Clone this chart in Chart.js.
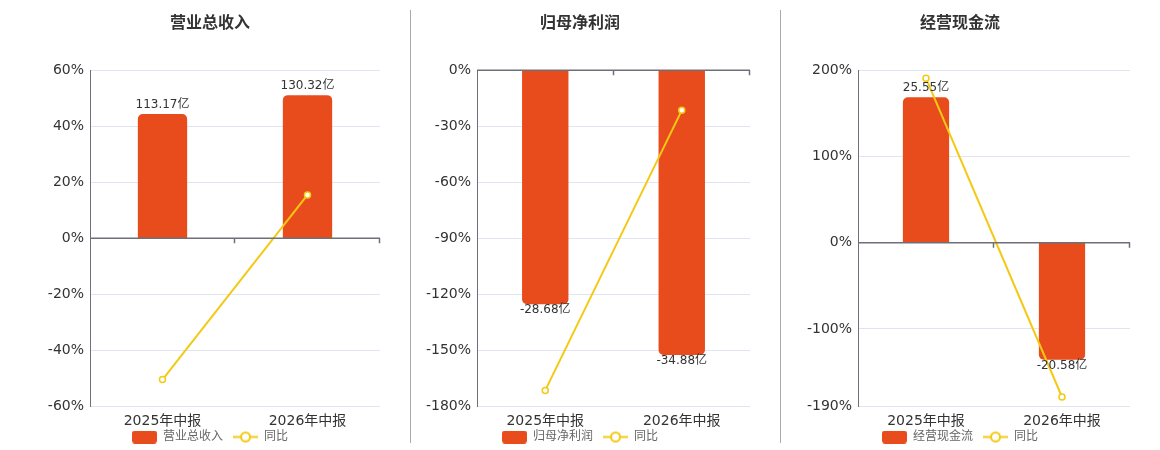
<!DOCTYPE html>
<html>
<head>
<meta charset="utf-8">
<script src="https://cdn.jsdelivr.net/npm/chart.js@4.4.0/dist/chart.umd.min.js"></script>
<style>
  body { margin: 0; background: #fff; width: 1160px; height: 450px; overflow: hidden; position: relative; }
  .box { position: absolute; top: 0; height: 453px; }
  .sep { position: absolute; top: 10px; width: 1px; height: 433px; background: #aaa; }
</style>
</head>
<body>
<div class="box" style="left:0;width:400px"><canvas id="c1"></canvas></div>
<div class="sep" style="left:410px"></div>
<div class="box" style="left:410px;width:350px"><canvas id="c2"></canvas></div>
<div class="sep" style="left:780px"></div>
<div class="box" style="left:790px;width:370px"><canvas id="c3"></canvas></div>
<script>
const periods = ['2025年中报', '2026年中报'];

const revenue = [113.17, 130.32];
const revenueYoy = [-50.4, 15.5];
const revenueTicks = [-60, -40, -20, 0, 20, 40, 60];

const netProfit = [-28.68, -34.88];
const netProfitYoy = [-171.4, -21.5];
const netProfitTicks = [-180, -150, -120, -90, -60, -30, 0];

const cashFlow = [25.55, -20.58];
const cashFlowYoy = [190.6, -179];
const cashFlowTicks = [-190, -100, 0, 100, 200];

const BAR = '#E84C1C';
const LINE = '#F4C915';
const AXIS = '#6E7079';
const FONT = '"DejaVu Sans", "Noto Sans CJK SC", sans-serif';

function barIcon() {
  const c = document.createElement('canvas');
  c.width = 25; c.height = 13;
  const g = c.getContext('2d');
  g.fillStyle = BAR;
  g.beginPath();
  g.roundRect(0, 0, 25, 13, 3);
  g.fill();
  return c;
}

function lineIcon() {
  const c = document.createElement('canvas');
  c.width = 25; c.height = 13;
  const g = c.getContext('2d');
  g.strokeStyle = LINE;
  g.lineWidth = 2;
  g.beginPath();
  g.moveTo(0, 6.5); g.lineTo(25, 6.5);
  g.stroke();
  g.beginPath();
  g.arc(12.5, 6.5, 4.5, 0, Math.PI * 2);
  g.fillStyle = '#fff';
  g.fill();
  g.stroke();
  return c;
}

// dark axis line on the zero value, with small ticks at category edges
const zeroAxis = {
  id: 'zeroAxis',
  afterDatasetsDraw(chart) {
    const { ctx, chartArea } = chart;
    const y0 = chart.scales.y.getPixelForValue(0);
    const n = chart.data.labels.length;
    const cw = (chartArea.right - chartArea.left) / n;
    ctx.save();
    ctx.strokeStyle = AXIS;
    ctx.lineWidth = 1.5;
    ctx.beginPath();
    ctx.moveTo(chartArea.left, y0);
    ctx.lineTo(chartArea.right, y0);
    for (let k = 1; k <= n; k++) {
      const x = Math.round(chartArea.left + k * cw) - 0.5;
      ctx.moveTo(x, y0);
      ctx.lineTo(x, y0 + 5);
    }
    ctx.stroke();
    ctx.restore();
  }
};

const barLabels = {
  id: 'barLabels',
  afterDatasetsDraw(chart) {
    const { ctx } = chart;
    const meta = chart.getDatasetMeta(1);
    const vals = chart.data.datasets[1].data;
    ctx.save();
    ctx.font = '12px ' + FONT;
    ctx.fillStyle = '#333';
    ctx.textAlign = 'center';
    meta.data.forEach((el, i) => {
      const v = vals[i];
      if (v >= 0) {
        ctx.textBaseline = 'bottom';
        ctx.fillText(v.toFixed(2) + '亿', el.x, el.y - 3);
      } else {
        ctx.textBaseline = 'top';
        ctx.fillText(v.toFixed(2) + '亿', el.x, el.y);
      }
    });
    ctx.restore();
  }
};

function makeChart(id, title, name, values, yoy, ticks, barMin, barMax, padL, padR, yWidth) {
  new Chart(document.getElementById(id), {
    data: {
      labels: periods,
      datasets: [
        {
          type: 'line',
          label: '同比',
          data: yoy,
          yAxisID: 'y',
          borderColor: LINE,
          borderWidth: 2,
          pointRadius: 3,
          pointBorderWidth: 1.5,
          pointBackgroundColor: '#fff',
          pointBorderColor: LINE,
          order: 0
        },
        {
          type: 'bar',
          label: name,
          data: values,
          yAxisID: 'y1',
          backgroundColor: BAR,
          borderRadius: 5,
          borderSkipped: 'start',
          barPercentage: 0.34,
          categoryPercentage: 1,
          order: 1
        }
      ]
    },
    options: {
      responsive: true,
      maintainAspectRatio: false,
      animation: false,
      layout: { padding: { left: padL, right: padR } },
      plugins: {
        title: {
          display: true,
          text: title,
          color: '#333',
          font: { family: FONT, size: 16, weight: 'bold' },
          padding: { top: 14, bottom: 37 }
        },
        legend: {
          position: 'bottom',
          labels: {
            usePointStyle: true,
            pointStyleWidth: 25,
            color: '#666',
            padding: 10,
            font: { family: FONT, size: 12 },
            generateLabels(chart) {
              return [
                { text: chart.data.datasets[1].label, pointStyle: barIcon(), datasetIndex: 1, fontColor: '#666', lineWidth: 0 },
                { text: chart.data.datasets[0].label, pointStyle: lineIcon(), datasetIndex: 0, fontColor: '#666', lineWidth: 0 }
              ];
            }
          }
        },
        tooltip: { enabled: false }
      },
      scales: {
        x: {
          offset: true,
          afterFit(scale) {
            scale.height = 14.5;
            // labels hang below the shortened axis box, so do not clip them
            scale._computeLabelArea = () => null;
          },
          grid: { display: false, drawTicks: false },
          border: { display: false },
          ticks: { color: '#333', padding: 6.5, font: { family: FONT, size: 14 } }
        },
        y: {
          min: ticks[0],
          max: ticks[ticks.length - 1],
          afterBuildTicks(scale) { scale.ticks = ticks.map(v => ({ value: v })); },
          afterFit(scale) { scale.width = yWidth; },
          grid: { color: '#E0E6F1', drawTicks: false },
          border: { display: true, color: AXIS, width: 1 },
          ticks: {
            color: '#333',
            padding: 6,
            font: { family: FONT, size: 14 },
            callback: v => v + '%'
          }
        },
        y1: {
          display: false,
          min: barMin,
          max: barMax
        }
      }
    },
    plugins: [zeroAxis, barLabels]
  });
}

makeChart('c1', '营业总收入', '营业总收入', revenue, revenueYoy, revenueTicks, -153, 153, 40, 20, 50);
makeChart('c2', '归母净利润', '归母净利润', netProfit, netProfitYoy, netProfitTicks, -41.2, 0, 0, 10, 67);
makeChart('c3', '经营现金流', '经营现金流', cashFlow, cashFlowYoy, cashFlowTicks, -28.8, 30.3, 0, 30, 68);
</script>
</body>
</html>
